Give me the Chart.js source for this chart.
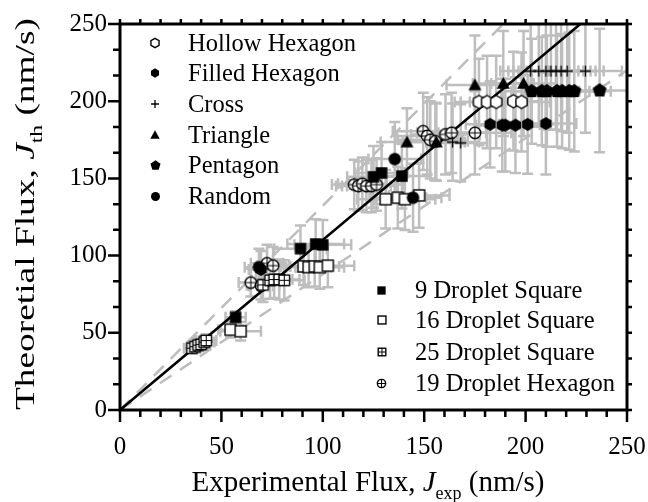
<!DOCTYPE html>
<html>
<head>
<meta charset="utf-8">
<script src="https://cdn.jsdelivr.net/npm/chart.js@4.4.1/dist/chart.umd.min.js"></script>
<style>
  html, body { margin: 0; padding: 0; background: #fff; }
</style>
</head>
<body>
<canvas id="fluxChart" width="648" height="502"></canvas>
<script>
// ---- values ----
const xTicks = [0, 50, 100, 150, 200, 250];
const yTicks = [0, 50, 100, 150, 200, 250];

// fit line and dashed bands (end points)
const fitLineX = [0, 227];
const fitLineY = [0, 250];
const upperBandX = [0, 189];
const upperBandY = [0, 250];
const lowerBandX = [0, 250];
const lowerBandY = [0, 220];

const hollowHexX = [177, 181, 185.5, 194, 198];
const hollowHexY = [199.5, 199.5, 199.5, 200, 199.5];
const hollowHexXErr = [12, 13, 13, 14, 14];
const hollowHexYErr = [28, 30, 30, 32, 32];

const filledHexX = [69.5, 182.5, 188.5, 190, 195, 201, 210];
const filledHexY = [91, 185, 184.5, 184.5, 184.5, 185, 185.5];
const filledHexXErr = [6, 12, 13, 13, 14, 14, 15];
const filledHexYErr = [12, 28, 30, 30, 31, 32, 33];

const crossX = [164, 168, 202.5, 206.5, 210, 212.5, 215, 217.5, 220.5, 229.5];
const crossY = [173.5, 173, 219.5, 219.5, 219.5, 219.5, 219.5, 219.5, 219.5, 219.5];
const crossXErr = [13, 13, 15, 15, 16, 16, 17, 17, 18, 18];
const crossYErr = [25, 25, 36, 36, 37, 38, 38, 39, 40, 40];

const triangleX = [141.5, 156, 175, 189, 199];
const triangleY = [173.5, 173.5, 210.5, 211.5, 211.5];
const triangleXErr = [13, 14, 14, 15, 16];
const triangleYErr = [22, 25, 32, 34, 34];

const pentagonX = [203, 208, 210.5, 215.5, 218, 221.5, 224, 236.5];
const pentagonY = [206.5, 206.5, 206.5, 206.5, 206.5, 206.5, 206.5, 207];
const pentagonXErr = [15, 15, 16, 16, 17, 17, 18, 14];
const pentagonYErr = [34, 35, 36, 36, 37, 38, 39, 40];

const randomX = [68.5, 135.5, 144.5];
const randomY = [92.5, 162.5, 137.5];
const randomXErr = [7, 13, 14];
const randomYErr = [12, 24, 22];

const sq9X = [57, 89, 96.5, 100, 125, 129, 139];
const sq9Y = [60, 104.5, 107.5, 107, 151, 153.5, 151.5];
const sq9XErr = [5, 13, 14, 14, 13, 13, 14];
const sq9YErr = [4, 15, 16, 16, 20, 20, 21];

const sq16X = [54.5, 59.5, 90.5, 93, 96, 98.5, 102.5, 131, 137, 140.5, 147.5];
const sq16Y = [52, 51, 93, 92.5, 93, 92.5, 93.5, 136.5, 137.5, 136.5, 139];
const sq16XErr = [6, 10, 11, 11, 12, 12, 13, 14, 14, 15, 15];
const sq16YErr = [5, 6, 12, 13, 13, 14, 14, 19, 20, 20, 21];

const sq25X = [35.5, 37, 38.5, 40, 41.5, 42.5, 70.5, 74, 76, 78.5, 81];
const sq25Y = [40, 41, 42, 42.5, 44, 45, 81, 84, 84.5, 84.5, 84];
const sq25XErr = [4, 4, 4, 4, 5, 5, 8, 9, 9, 10, 10];
const sq25YErr = [3, 3, 3, 3, 4, 4, 11, 12, 12, 13, 13];

const hex19X = [64.5, 69.5, 72.5, 75.5, 115.5, 117.5, 119.5, 121.5, 124, 126.5, 149.5, 151.5, 153, 155.5, 160.5, 163.5, 175];
const hex19Y = [82.5, 80.5, 95, 93.5, 146, 145, 146.5, 145, 145, 146, 180.5, 177.5, 175, 174, 178.5, 179.5, 179.5];
const hex19XErr = [6, 6, 8, 8, 11, 11, 12, 12, 12, 13, 15, 15, 16, 16, 17, 17, 18];
const hex19YErr = [9, 9, 12, 12, 16, 16, 17, 17, 17, 17, 25, 25, 25, 25, 26, 26, 27];

const serif = '"Liberation Serif", "Times New Roman", serif';

// ---- marker images ----
function makeMarker(kind, d) {
  const s = Math.ceil(d + 4);
  const c = document.createElement('canvas');
  c.width = s; c.height = s;
  const g = c.getContext('2d');
  const m = s / 2, r = d / 2;
  g.lineWidth = 1.4; g.strokeStyle = '#000'; g.fillStyle = '#000';
  const poly = (n, rr) => {
    g.beginPath();
    for (let i = 0; i < n; i++) {
      const a = -Math.PI / 2 + i * 2 * Math.PI / n;
      const px = m + rr * Math.cos(a), py = m + rr * Math.sin(a);
      if (i) g.lineTo(px, py); else g.moveTo(px, py);
    }
    g.closePath();
  };
  if (kind === 'hexOpen') { poly(6, r); g.fillStyle = '#fff'; g.fill(); g.stroke(); }
  else if (kind === 'hexFill') { poly(6, r); g.fill(); }
  else if (kind === 'pent') { poly(5, r * 1.05); g.fill(); }
  else if (kind === 'tri') {
    g.beginPath(); g.moveTo(m, m - r); g.lineTo(m + r, m + r * 0.8); g.lineTo(m - r, m + r * 0.8); g.closePath(); g.fill();
  }
  else if (kind === 'dot') { g.beginPath(); g.arc(m, m, r, 0, 2 * Math.PI); g.fill(); }
  else if (kind === 'plus') {
    g.lineWidth = 1.3; g.beginPath();
    g.moveTo(m - r, m); g.lineTo(m + r, m); g.moveTo(m, m - r); g.lineTo(m, m + r); g.stroke();
  }
  else if (kind === 'sqFill') { g.fillRect(m - r, m - r, d, d); }
  else if (kind === 'sqOpen') { g.fillStyle = '#fff'; g.fillRect(m - r, m - r, d, d); g.strokeRect(m - r, m - r, d, d); }
  else if (kind === 'sqGrid') {
    g.fillStyle = '#fff'; g.fillRect(m - r, m - r, d, d); g.strokeRect(m - r, m - r, d, d);
    g.lineWidth = 1; g.beginPath(); g.moveTo(m - r, m); g.lineTo(m + r, m); g.moveTo(m, m - r); g.lineTo(m, m + r); g.stroke();
  }
  else if (kind === 'circCross') {
    g.beginPath(); g.arc(m, m, r, 0, 2 * Math.PI); g.fillStyle = '#fff'; g.fill(); g.stroke();
    g.lineWidth = 1; g.beginPath(); g.moveTo(m - r, m); g.lineTo(m + r, m); g.moveTo(m, m - r); g.lineTo(m, m + r); g.stroke();
  }
  return c;
}

const series = [
  { label: 'Hollow Hexagon', kind: 'hexOpen', size: 13, xs: hollowHexX, ys: hollowHexY, xe: hollowHexXErr, ye: hollowHexYErr },
  { label: 'Filled Hexagon', kind: 'hexFill', size: 13, xs: filledHexX, ys: filledHexY, xe: filledHexXErr, ye: filledHexYErr },
  { label: 'Cross', kind: 'plus', size: 11, xs: crossX, ys: crossY, xe: crossXErr, ye: crossYErr },
  { label: 'Triangle', kind: 'tri', size: 13, xs: triangleX, ys: triangleY, xe: triangleXErr, ye: triangleYErr },
  { label: 'Pentagon', kind: 'pent', size: 14, xs: pentagonX, ys: pentagonY, xe: pentagonXErr, ye: pentagonYErr },
  { label: 'Random', kind: 'dot', size: 12.5, xs: randomX, ys: randomY, xe: randomXErr, ye: randomYErr },
  { label: '9 Droplet Square', kind: 'sqFill', size: 11.5, xs: sq9X, ys: sq9Y, xe: sq9XErr, ye: sq9YErr },
  { label: '16 Droplet Square', kind: 'sqOpen', size: 11, xs: sq16X, ys: sq16Y, xe: sq16XErr, ye: sq16YErr },
  { label: '25 Droplet Square', kind: 'sqGrid', size: 10.5, xs: sq25X, ys: sq25Y, xe: sq25XErr, ye: sq25YErr },
  { label: '19 Droplet Hexagon', kind: 'circCross', size: 11.5, xs: hex19X, ys: hex19Y, xe: hex19XErr, ye: hex19YErr }
];

const toPoints = (xs, ys) => xs.map((x, i) => ({ x: x, y: ys[i] }));

const datasets = series.map(s => ({
  label: s.label,
  data: toPoints(s.xs, s.ys),
  xErr: s.xe,
  yErr: s.ye,
  pointStyle: makeMarker(s.kind, s.size),
  pointRadius: 5,
  order: 0
}));

datasets.push(
  { label: 'fit', data: toPoints(fitLineX, fitLineY), showLine: true, borderColor: '#000', borderWidth: 2.5, pointRadius: 0, order: 5 },
  { label: 'upper', data: toPoints(upperBandX, upperBandY), showLine: true, borderColor: '#bdbdbd', borderWidth: 2.5, borderDash: [14, 10], pointRadius: 0, order: 6 },
  { label: 'lower', data: toPoints(lowerBandX, lowerBandY), showLine: true, borderColor: '#bdbdbd', borderWidth: 2.5, borderDash: [14, 10], pointRadius: 0, order: 6 }
);

// ---- error bars, drawn under everything ----
const errorBars = {
  id: 'errorBars',
  beforeDatasetsDraw(chart) {
    const { ctx, chartArea: a, scales: { x, y } } = chart;
    ctx.save();
    ctx.beginPath(); ctx.rect(a.left, a.top, a.width, a.height); ctx.clip();
    ctx.strokeStyle = '#bebebe'; ctx.lineWidth = 2.5;
    const cap = 5.5;
    chart.data.datasets.forEach(ds => {
      if (!ds.xErr) return;
      ds.data.forEach((p, i) => {
        const cx = x.getPixelForValue(p.x), cy = y.getPixelForValue(p.y);
        const x0 = x.getPixelForValue(p.x - ds.xErr[i]), x1 = x.getPixelForValue(p.x + ds.xErr[i]);
        const y0 = y.getPixelForValue(p.y - ds.yErr[i]), y1 = y.getPixelForValue(p.y + ds.yErr[i]);
        ctx.beginPath();
        ctx.moveTo(x0, cy); ctx.lineTo(x1, cy);
        ctx.moveTo(x0, cy - cap); ctx.lineTo(x0, cy + cap);
        ctx.moveTo(x1, cy - cap); ctx.lineTo(x1, cy + cap);
        ctx.moveTo(cx, y0); ctx.lineTo(cx, y1);
        ctx.moveTo(cx - cap, y0); ctx.lineTo(cx + cap, y0);
        ctx.moveTo(cx - cap, y1); ctx.lineTo(cx + cap, y1);
        ctx.stroke();
      });
    });
    ctx.restore();
  }
};

function richWidth(ctx, parts) {
  let w = 0;
  parts.forEach(p => { ctx.font = p[1]; w += ctx.measureText(p[0]).width; });
  return w;
}

function drawRich(ctx, parts, cx, baseY) {
  let px = cx - richWidth(ctx, parts) / 2;
  parts.forEach(p => {
    ctx.font = p[1];
    ctx.fillText(p[0], px, baseY + (p[2] || 0));
    px += ctx.measureText(p[0]).width;
  });
}

// ---- frame, minor ticks, titles and legends ----
const frame = {
  id: 'frame',
  afterDraw(chart) {
    const { ctx, chartArea: a, scales: { x, y } } = chart;
    ctx.save();
    ctx.strokeStyle = '#000';
    ctx.lineWidth = 3;
    ctx.strokeRect(a.left, a.top, a.width, a.height);
    ctx.lineWidth = 2.5;
    ctx.beginPath();
    for (let v = 0; v <= 250; v += 10) {
      const px = x.getPixelForValue(v), major = v % 50 === 0;
      ctx.moveTo(px, a.bottom); ctx.lineTo(px, a.bottom + (major ? 12 : 7));
      ctx.moveTo(px, a.top); ctx.lineTo(px, a.top - 5);
    }
    for (let k = 0; k <= 15; k++) {
      const py = y.getPixelForValue(k * 50 / 3), major = k % 3 === 0;
      ctx.moveTo(a.left, py); ctx.lineTo(a.left - (major ? 12 : 7), py);
      ctx.moveTo(a.right, py); ctx.lineTo(a.right + 5, py);
    }
    ctx.stroke();

    // axis titles
    ctx.fillStyle = '#000';
    ctx.textBaseline = 'alphabetic';
    ctx.textAlign = 'left';
    const f = '29px ' + serif, fi = 'italic 29px ' + serif, fs = '18px ' + serif;
    drawRich(ctx, [['Experimental Flux, ', f], ['J', fi], ['exp', fs, 8], [' (nm/s)', f]], 368, 491);

    const fy = '27px ' + serif, fyi = 'italic 27px ' + serif, fys = '17px ' + serif;
    const yParts = [['Theoretial Flux, ', fy], ['J', fyi], ['th', fys, 8], [' (nm/s)', fy]];
    const stretch = 392 / richWidth(ctx, yParts);
    ctx.save();
    ctx.translate(34, 214);
    ctx.rotate(-Math.PI / 2);
    ctx.scale(stretch, 1);
    drawRich(ctx, yParts, 0, 0);
    ctx.restore();

    // legends
    ctx.font = '24.5px ' + serif;
    const leftRows = [43, 73, 103.5, 134.5, 165, 196];
    const rightRows = [290, 320, 351.5, 383];
    series.forEach((s, i) => {
      const mk = makeMarker(s.kind, s.size * 0.72);
      const lx = i < 6 ? 155 : 381.5, tx = i < 6 ? 188 : 415;
      const ly = i < 6 ? leftRows[i] : rightRows[i - 6];
      ctx.drawImage(mk, Math.round(lx - mk.width / 2), Math.round(ly - mk.height / 2));
      ctx.fillText(s.label, tx, ly + 8);
    });
    ctx.restore();
  }
};

new Chart(document.getElementById('fluxChart'), {
  type: 'scatter',
  data: { datasets: datasets },
  options: {
    responsive: false,
    animation: false,
    devicePixelRatio: 1,
    events: [],
    layout: { padding: { top: 24, right: 21, left: 0, bottom: 0 } },
    plugins: { legend: { display: false }, tooltip: { enabled: false } },
    scales: {
      x: {
        type: 'linear', min: 0, max: 250,
        afterFit: s => { s.height = 92; s.paddingLeft = 0; s.paddingRight = 0; },
        afterBuildTicks: s => { s.ticks = xTicks.map(v => ({ value: v })); },
        grid: { display: false, drawTicks: false },
        border: { display: false },
        ticks: { color: '#000', font: { family: 'Liberation Serif', size: 25 }, padding: 22, maxRotation: 0 }
      },
      y: {
        type: 'linear', min: 0, max: 250,
        afterFit: s => { s.width = 120; s.paddingTop = 0; s.paddingBottom = 0; },
        afterBuildTicks: s => { s.ticks = yTicks.map(v => ({ value: v })); },
        grid: { display: false, drawTicks: false },
        border: { display: false },
        ticks: { color: '#000', font: { family: 'Liberation Serif', size: 25 }, padding: 13 }
      }
    }
  },
  plugins: [errorBars, frame]
});
</script>
</body>
</html>
